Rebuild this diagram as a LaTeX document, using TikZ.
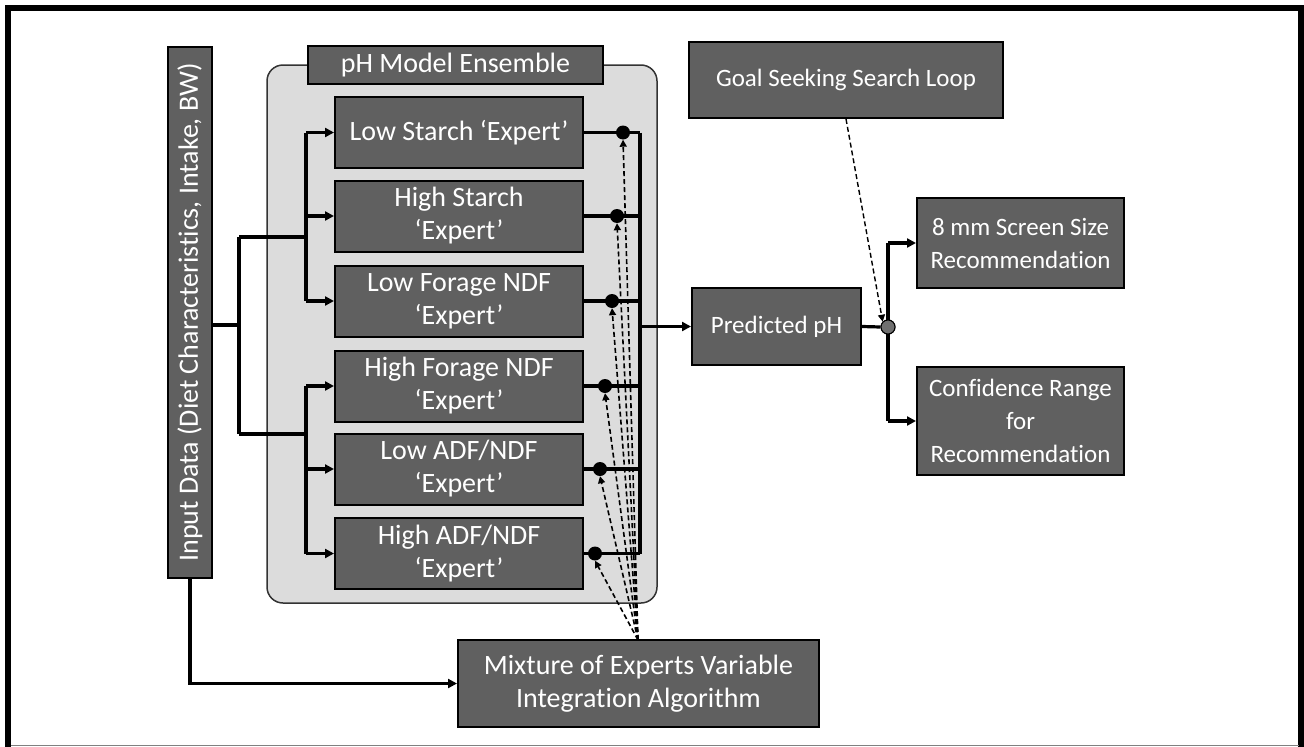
\documentclass[tikz,border=0pt]{standalone}
\usepackage{fontspec}
\setmainfont{Carlito}[Ligatures={NoCommon}]
\usetikzlibrary{arrows.meta}
\definecolor{boxgray}{HTML}{606060}
\definecolor{panelgray}{HTML}{DCDCDC}
\definecolor{dotgray}{HTML}{707070}
\tikzset{
  box/.style={draw=black, line width=2pt, fill=boxgray, text=white, align=center,
    inner sep=0pt, font=\fontsize{28}{33}\selectfont},
  smallbox/.style={box, font=\fontsize{25}{33}\selectfont},
  expertbox/.style={box, minimum width=248pt, minimum height=71pt},
  conn/.style={line width=3.2pt, draw=black},
  arr/.style={conn, -{Triangle[length=9pt,width=9pt]}},
  dasharr/.style={line width=1.6pt, dashed, dash pattern=on 5pt off 3pt, -{Triangle[length=7pt,width=7pt]}},
  bigdot/.style={circle, fill=black, inner sep=0pt, minimum size=14pt},
  hubdot/.style={circle, fill=dotgray, draw=black, line width=1pt, inner sep=0pt, minimum size=14pt},
}
\begin{document}
\begin{tikzpicture}[x=1pt, y=-1pt]
\useasboundingbox (0,0) rectangle (1304,747);
\fill[white] (0,0) rectangle (1304,747);
% page frame
\draw[line width=6pt] (8,750) -- (8,8) -- (1301,8) -- (1301,750);
\draw[line width=1.5pt, gray] (11,745.5) -- (1299,745.5);

% ensemble panel and its title
\node[draw=black!80, line width=1.5pt, fill=panelgray, rounded corners=16pt,
      minimum width=390pt, minimum height=538pt, inner sep=0pt] (ens) at (462,334) {};
\node[box, minimum width=295pt, minimum height=38pt] (title) at (455.5,65) {pH Model Ensemble};

% input column
\node[box, minimum width=44pt, minimum height=531pt] (in) at (190,312.5)
  {\rotatebox{90}{Input Data (Diet Characteristics, Intake, BW)}};

% experts
\node[expertbox] (e1) at (459,132.5) {Low Starch ‘Expert’};
\node[expertbox] (e2) at (459,216) {High Starch\\‘Expert’};
\node[expertbox] (e3) at (459,301) {Low Forage NDF\\‘Expert’};
\node[expertbox] (e4) at (459,386) {High Forage NDF\\‘Expert’};
\node[expertbox] (e5) at (459,469) {Low ADF/NDF\\‘Expert’};
\node[expertbox] (e6) at (459,553.5) {High ADF/NDF\\‘Expert’};

% downstream boxes
\node[smallbox, minimum width=169pt, minimum height=77pt] (pred) at (776.5,326.5) {Predicted pH};
\node[smallbox, minimum width=314pt, minimum height=76pt] (goal) at (846,80) {Goal Seeking Search Loop};
\node[smallbox, minimum width=207pt, minimum height=90pt] (r1) at (1020.5,243) {8 mm Screen Size\\Recommendation};
\node[smallbox, minimum width=207pt, minimum height=108pt] (r2) at (1020.5,421) {Confidence Range\\for\\Recommendation};
\node[box, minimum width=361pt, minimum height=87pt] (mix) at (638.5,683.5) {Mixture of Experts Variable\\Integration Algorithm};

% input fan-out
\coordinate (j0) at (239,325);
\coordinate (ja) at (239,237);
\coordinate (jb) at (239,434);
\coordinate (ta) at (306,237);
\coordinate (tb) at (306,434);
\draw[conn] (in.east |- j0) -- (j0);
\draw[conn] (ja) -- (jb);
\draw[conn] (ja) -- (ta);
\draw[conn] (jb) -- (tb);
\draw[conn] (ta |- e1.west) -- (ta |- e3.west);
\draw[conn] (tb |- e4.west) -- (tb |- e6.west);
\foreach \e in {e1,e2,e3}{\draw[arr] (ta |- \e.west) -- (\e.west);}
\foreach \e in {e4,e5,e6}{\draw[arr] (tb |- \e.west) -- (\e.west);}

% expert outputs onto the bus
\coordinate (bus) at (640,0);
\foreach \e in {e1,e2,e3,e4,e5,e6}{\draw[conn] (\e.east) -- (bus |- \e.east);}
\draw[conn] (bus |- e1.east) -- (bus |- e6.east);
\draw[arr] (bus |- pred.west) -- (pred.west);

% gating points on each expert output
\node[bigdot] (d1) at (623,132.5) {};
\node[bigdot] (d2) at (617,216) {};
\node[bigdot] (d3) at (612,301) {};
\node[bigdot] (d4) at (605,386) {};
\node[bigdot] (d5) at (600,469) {};
\node[bigdot] (d6) at (595,553.5) {};

% gating weights from the mixture algorithm
\coordinate (mixtop) at (638,640);
\foreach \d in {d1,d2,d3,d4,d5,d6}{\draw[dasharr] (mixtop) -- (\d.south);}

% input data to the mixture algorithm
\draw[arr] (in.south) |- (mix.west);

% prediction to recommendations
\node[hubdot] (hub) at (888,327) {};
\draw[conn] (pred.east) -- (hub.west);
\coordinate (hr1) at (888,243);
\coordinate (hr2) at (888,421);
\draw[conn] (hr1) -- (hr2);
\draw[arr] (hr1) -- (r1.west);
\draw[arr] (hr2) -- (r2.west);
\node[hubdot] at (hub) {};
\draw[dasharr, line width=1.4pt] (goal.south) -- (hub.north west);
\end{tikzpicture}
\end{document}
